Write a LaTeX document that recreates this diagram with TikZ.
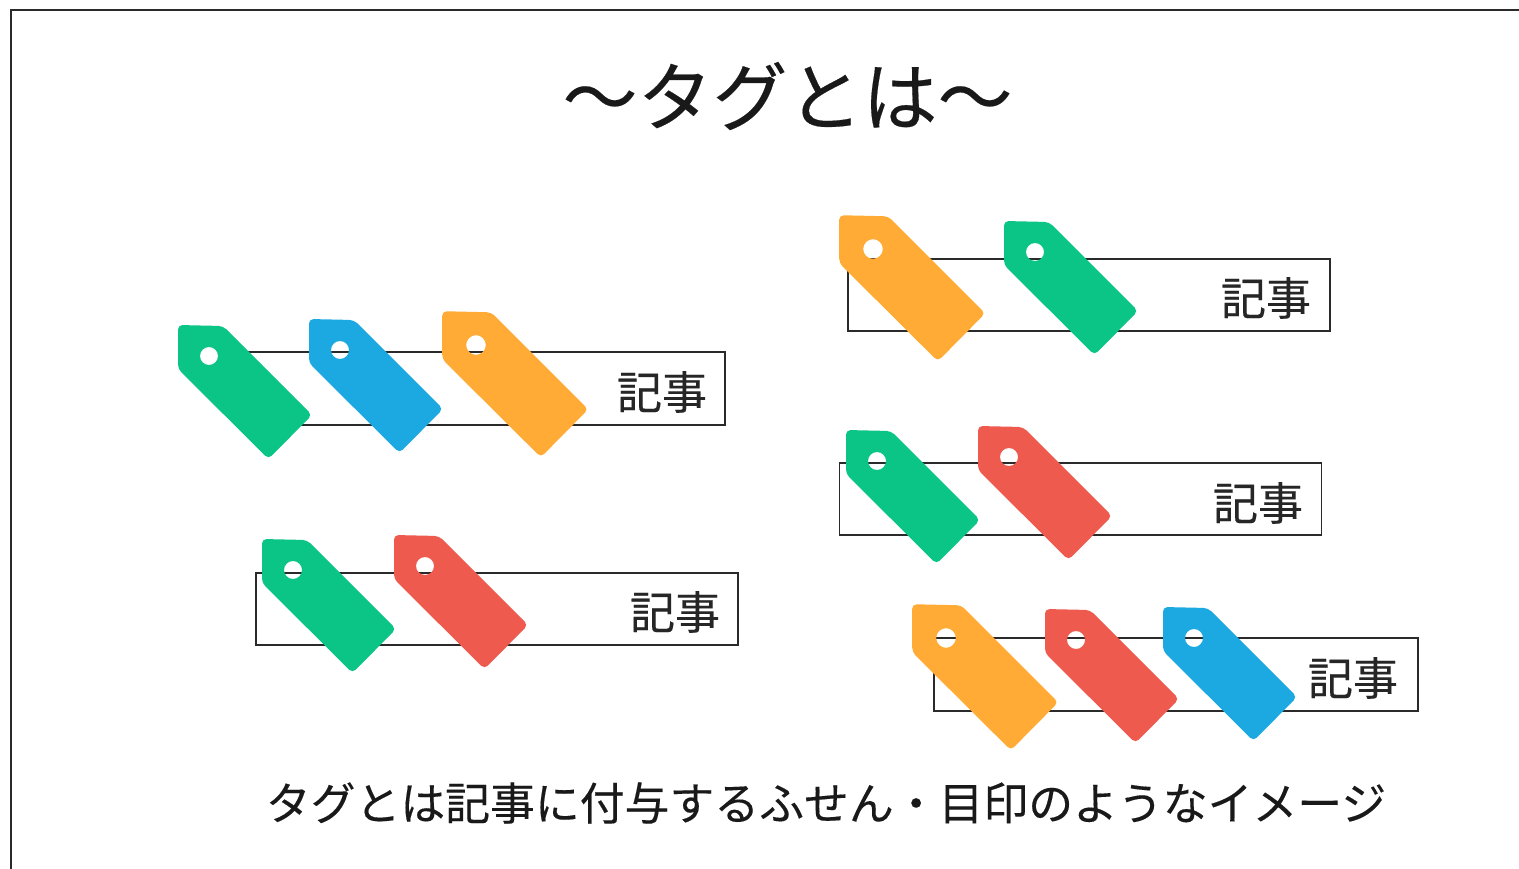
\documentclass[tikz,border=0pt]{standalone}
\usepackage{fontspec}
\newfontfamily\cjk[FakeBold=0.25]{Noto Sans CJK JP}
\definecolor{taggreen}{HTML}{0BC586}
\definecolor{tagblue}{HTML}{1CA9E1}
\definecolor{tagorange}{HTML}{FFAB36}
\definecolor{tagred}{HTML}{EE5A4E}
\definecolor{inkdark}{HTML}{2A2A2A}
\tikzset{
  x=1pt,y=-1pt,
  frameline/.style={draw=inkdark,line width=2.4pt},
  articlebox/.style={draw=inkdark,line width=1.9pt,fill=none,minimum width=482pt,minimum height=72.5pt,inner sep=0pt},
  articlelabel/.style={font=\cjk\fontsize{45}{45}\selectfont,text=black!85,inner sep=0pt},
  titletext/.style={font=\cjk\fontsize{75}{76}\selectfont,text=black!90,inner sep=0pt},
  captiontext/.style={font=\cjk\fontsize{44.85}{45}\selectfont,text=black!90,inner sep=0pt},
  pics/labeltag/.style={code={
    \fill[pic actions,even odd rule,rounded corners=4.5pt]
      (-31,-31) -- (14,-30) -- (103,59) -- (59.5,103) -- (-31,13) -- cycle
      (9,0) arc[start angle=0,end angle=360,radius=9];
  }},
  bigtag/.style={scale=1.09},
}
\begin{document}
\begin{tikzpicture}
\useasboundingbox (0,0) rectangle (1519,869);
\fill[white] (0,0) rectangle (1519,869);
\coordinate (frameA) at (11,869);
\coordinate (frameB) at (11,10);
\coordinate (frameC) at (1519,10);
\draw[frameline] (frameA) -- (frameB) -- (frameC);

\node[titletext] (title) at (787.5,96) {～タグとは～};
\node[captiontext] (caption) at (826,803) {タグとは記事に付与するふせん・目印のようなイメージ};

\node[articlebox] (art1) at (484,388.5) {};
\node[articlebox] (art2) at (497,609) {};
\node[articlebox] (art3) at (1089,295) {};
\node[articlebox] (art4) at (1080.5,499) {};
\node[articlebox,minimum width=484pt] (art5) at (1176,674.5) {};

\node[articlelabel] (lab1) at (662,392) {記事};
\node[articlelabel] (lab2) at (675,612) {記事};
\node[articlelabel] (lab3) at (1266,298) {記事};
\node[articlelabel] (lab4) at (1258,503) {記事};
\node[articlelabel] (lab5) at (1353,678) {記事};

\pic[fill=taggreen] (t1a) at (209,356) {labeltag};
\pic[fill=tagblue] (t1b) at (340,350) {labeltag};
\pic[fill=tagorange,bigtag] (t1c) at (476,345) {labeltag};
\pic[fill=taggreen] (t2a) at (293,570) {labeltag};
\pic[fill=tagred] (t2b) at (425,566) {labeltag};
\pic[fill=tagorange,bigtag] (t3a) at (873,249) {labeltag};
\pic[fill=taggreen] (t3b) at (1035,252) {labeltag};
\pic[fill=taggreen] (t4a) at (877,461) {labeltag};
\pic[fill=tagred] (t4b) at (1009,457) {labeltag};
\pic[fill=tagorange,bigtag] (t5a) at (946,638) {labeltag};
\pic[fill=tagred] (t5b) at (1076,640) {labeltag};
\pic[fill=tagblue] (t5c) at (1194,638) {labeltag};
\end{tikzpicture}
\end{document}
